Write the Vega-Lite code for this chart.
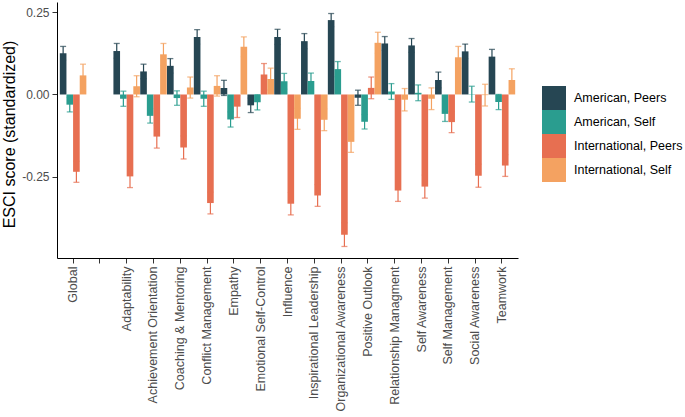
{
  "$schema": "https://vega.github.io/schema/vega-lite/v6.json",
  "autosize": "none",
  "width": 461,
  "height": 256,
  "padding": {"left": 57, "top": 2, "right": 167, "bottom": 159},
  "background": "white",
  "config": {
    "view": {"stroke": null},
    "font": "Liberation Sans",
    "axis": {"grid": false, "domainColor": "black", "domainWidth": 1, "tickColor": "#333333", "tickWidth": 1, "tickSize": 5, "labelColor": "#4D4D4D", "labelFontSize": 12.5, "labelFont": "Liberation Sans", "titleFont": "Liberation Sans"}
  },
  "data": {
    "values": [
      {"category": "Global", "group": "American, Peers", "value": 0.125, "lo": 0.104, "hi": 0.146},
      {"category": "Global", "group": "American, Self", "value": -0.031, "lo": -0.053, "hi": -0.009},
      {"category": "Global", "group": "International, Peers", "value": -0.235, "lo": -0.267, "hi": -0.203},
      {"category": "Global", "group": "International, Self", "value": 0.058, "lo": 0.024, "hi": 0.092},
      {"category": "Adaptability", "group": "American, Peers", "value": 0.132, "lo": 0.110, "hi": 0.155},
      {"category": "Adaptability", "group": "American, Self", "value": -0.013, "lo": -0.036, "hi": 0.010},
      {"category": "Adaptability", "group": "International, Peers", "value": -0.249, "lo": -0.283, "hi": -0.215},
      {"category": "Adaptability", "group": "International, Self", "value": 0.025, "lo": -0.007, "hi": 0.057},
      {"category": "Achievement Orientation", "group": "American, Peers", "value": 0.070, "lo": 0.048, "hi": 0.092},
      {"category": "Achievement Orientation", "group": "American, Self", "value": -0.065, "lo": -0.087, "hi": -0.043},
      {"category": "Achievement Orientation", "group": "International, Peers", "value": -0.128, "lo": -0.163, "hi": -0.093},
      {"category": "Achievement Orientation", "group": "International, Self", "value": 0.122, "lo": 0.089, "hi": 0.155},
      {"category": "Coaching & Mentoring", "group": "American, Peers", "value": 0.087, "lo": 0.065, "hi": 0.109},
      {"category": "Coaching & Mentoring", "group": "American, Self", "value": -0.011, "lo": -0.033, "hi": 0.011},
      {"category": "Coaching & Mentoring", "group": "International, Peers", "value": -0.161, "lo": -0.196, "hi": -0.126},
      {"category": "Coaching & Mentoring", "group": "International, Self", "value": 0.021, "lo": -0.011, "hi": 0.053},
      {"category": "Conflict Management", "group": "American, Peers", "value": 0.175, "lo": 0.153, "hi": 0.197},
      {"category": "Conflict Management", "group": "American, Self", "value": -0.013, "lo": -0.036, "hi": 0.010},
      {"category": "Conflict Management", "group": "International, Peers", "value": -0.330, "lo": -0.363, "hi": -0.297},
      {"category": "Conflict Management", "group": "International, Self", "value": 0.026, "lo": -0.005, "hi": 0.057},
      {"category": "Empathy", "group": "American, Peers", "value": 0.020, "lo": -0.003, "hi": 0.043},
      {"category": "Empathy", "group": "American, Self", "value": -0.076, "lo": -0.099, "hi": -0.053},
      {"category": "Empathy", "group": "International, Peers", "value": -0.037, "lo": -0.070, "hi": -0.004},
      {"category": "Empathy", "group": "International, Self", "value": 0.145, "lo": 0.115, "hi": 0.175},
      {"category": "Emotional Self-Control", "group": "American, Peers", "value": -0.033, "lo": -0.055, "hi": -0.011},
      {"category": "Emotional Self-Control", "group": "American, Self", "value": -0.024, "lo": -0.047, "hi": -0.001},
      {"category": "Emotional Self-Control", "group": "International, Peers", "value": 0.061, "lo": 0.028, "hi": 0.094},
      {"category": "Emotional Self-Control", "group": "International, Self", "value": 0.047, "lo": 0.014, "hi": 0.080},
      {"category": "Influence", "group": "American, Peers", "value": 0.175, "lo": 0.152, "hi": 0.198},
      {"category": "Influence", "group": "American, Self", "value": 0.040, "lo": 0.016, "hi": 0.064},
      {"category": "Influence", "group": "International, Peers", "value": -0.332, "lo": -0.366, "hi": -0.298},
      {"category": "Influence", "group": "International, Self", "value": -0.074, "lo": -0.106, "hi": -0.042},
      {"category": "Inspirational Leadership", "group": "American, Peers", "value": 0.162, "lo": 0.139, "hi": 0.185},
      {"category": "Inspirational Leadership", "group": "American, Self", "value": 0.041, "lo": 0.017, "hi": 0.065},
      {"category": "Inspirational Leadership", "group": "International, Peers", "value": -0.307, "lo": -0.340, "hi": -0.274},
      {"category": "Inspirational Leadership", "group": "International, Self", "value": -0.077, "lo": -0.110, "hi": -0.044},
      {"category": "Organizational Awareness", "group": "American, Peers", "value": 0.226, "lo": 0.206, "hi": 0.246},
      {"category": "Organizational Awareness", "group": "American, Self", "value": 0.077, "lo": 0.054, "hi": 0.100},
      {"category": "Organizational Awareness", "group": "International, Peers", "value": -0.426, "lo": -0.462, "hi": -0.390},
      {"category": "Organizational Awareness", "group": "International, Self", "value": -0.144, "lo": -0.176, "hi": -0.112},
      {"category": "Positive Outlook", "group": "American, Peers", "value": -0.010, "lo": -0.033, "hi": 0.013},
      {"category": "Positive Outlook", "group": "American, Self", "value": -0.083, "lo": -0.105, "hi": -0.061},
      {"category": "Positive Outlook", "group": "International, Peers", "value": 0.020, "lo": -0.013, "hi": 0.053},
      {"category": "Positive Outlook", "group": "International, Self", "value": 0.157, "lo": 0.125, "hi": 0.189},
      {"category": "Relationship Managment", "group": "American, Peers", "value": 0.155, "lo": 0.134, "hi": 0.176},
      {"category": "Relationship Managment", "group": "American, Self", "value": 0.009, "lo": -0.015, "hi": 0.033},
      {"category": "Relationship Managment", "group": "International, Peers", "value": -0.292, "lo": -0.325, "hi": -0.259},
      {"category": "Relationship Managment", "group": "International, Self", "value": -0.016, "lo": -0.050, "hi": 0.018},
      {"category": "Self Awareness", "group": "American, Peers", "value": 0.149, "lo": 0.128, "hi": 0.170},
      {"category": "Self Awareness", "group": "American, Self", "value": 0.005, "lo": -0.019, "hi": 0.029},
      {"category": "Self Awareness", "group": "International, Peers", "value": -0.280, "lo": -0.315, "hi": -0.245},
      {"category": "Self Awareness", "group": "International, Self", "value": -0.013, "lo": -0.046, "hi": 0.020},
      {"category": "Self Management", "group": "American, Peers", "value": 0.044, "lo": 0.020, "hi": 0.068},
      {"category": "Self Management", "group": "American, Self", "value": -0.059, "lo": -0.082, "hi": -0.036},
      {"category": "Self Management", "group": "International, Peers", "value": -0.084, "lo": -0.116, "hi": -0.052},
      {"category": "Self Management", "group": "International, Self", "value": 0.113, "lo": 0.080, "hi": 0.146},
      {"category": "Social Awareness", "group": "American, Peers", "value": 0.131, "lo": 0.109, "hi": 0.153},
      {"category": "Social Awareness", "group": "American, Self", "value": 0.001, "lo": -0.023, "hi": 0.025},
      {"category": "Social Awareness", "group": "International, Peers", "value": -0.247, "lo": -0.282, "hi": -0.212},
      {"category": "Social Awareness", "group": "International, Self", "value": -0.002, "lo": -0.035, "hi": 0.031},
      {"category": "Teamwork", "group": "American, Peers", "value": 0.115, "lo": 0.093, "hi": 0.137},
      {"category": "Teamwork", "group": "American, Self", "value": -0.023, "lo": -0.046, "hi": 0.000},
      {"category": "Teamwork", "group": "International, Peers", "value": -0.216, "lo": -0.249, "hi": -0.183},
      {"category": "Teamwork", "group": "International, Self", "value": 0.044, "lo": 0.010, "hi": 0.078}
    ]
  },
  "encoding": {
    "x": {
      "field": "category", "type": "nominal",
      "scale": {"domain": ["Global", " ", "Adaptability", "Achievement Orientation", "Coaching & Mentoring", "Conflict Management", "Empathy", "Emotional Self-Control", "Influence", "Inspirational Leadership", "Organizational Awareness", "Positive Outlook", "Relationship Managment", "Self Awareness", "Self Management", "Social Awareness", "Teamwork"], "paddingInner": 0, "paddingOuter": 0.1},
      "axis": {"title": null, "labelAngle": -90, "labelPadding": 3, "labelAlign": "right", "labelBaseline": "middle"}
    },
    "xOffset": {"field": "group", "type": "nominal", "scale": {"domain": ["American, Peers", "American, Self", "International, Peers", "International, Self"], "paddingInner": 0, "paddingOuter": 0.02}},
    "color": {
      "field": "group", "type": "nominal",
      "scale": {"domain": ["American, Peers", "American, Self", "International, Peers", "International, Self"], "range": ["#264653", "#2a9d8f", "#e76f51", "#f4a261"]},
      "legend": {"title": null, "orient": "none", "legendX": 485, "legendY": 84, "symbolType": "square", "symbolSize": 576, "symbolStrokeWidth": 0, "symbolOpacity": 1, "labelFontSize": 12.5, "labelColor": "black", "labelOffset": 8, "rowPadding": 0, "labelFont": "Liberation Sans"}
    }
  },
  "layer": [
    {
      "mark": {"type": "rule", "strokeWidth": 1.2},
      "encoding": {
        "y": {"field": "lo", "type": "quantitative"},
        "y2": {"field": "hi"}
      }
    },
    {
      "mark": {"type": "tick", "size": 6, "thickness": 1.3, "orient": "horizontal"},
      "encoding": {"y": {"field": "hi", "type": "quantitative"}}
    },
    {
      "mark": {"type": "tick", "size": 6, "thickness": 1.3, "orient": "horizontal"},
      "encoding": {"y": {"field": "lo", "type": "quantitative"}}
    },
    {
      "mark": {"type": "bar"},
      "encoding": {
        "y": {
          "field": "value", "type": "quantitative",
          "scale": {"domain": [-0.497, 0.281], "nice": false, "zero": false},
          "axis": {"title": "ESCI score (standardized)", "values": [-0.25, 0, 0.25], "labelExpr": "replace(format(datum.value, '.2f'), '\u2212', '-')", "labelPadding": 3, "labelFontSize": 12, "titleFontSize": 16, "titleFontWeight": "normal", "titleColor": "black", "titlePadding": 4, "titleY": 132}
        }
      }
    }
  ]
}
